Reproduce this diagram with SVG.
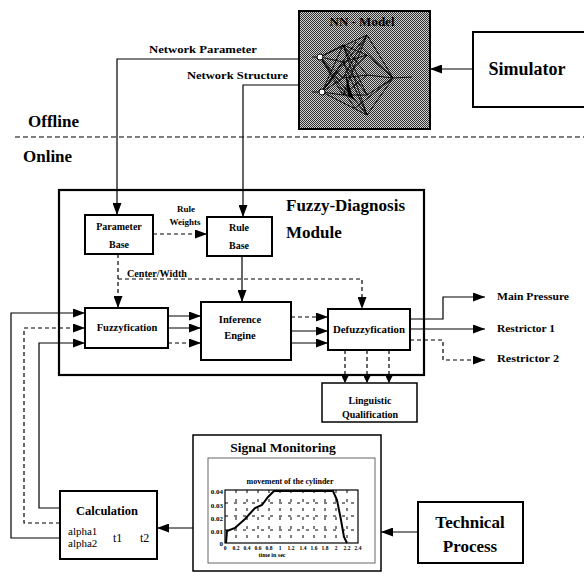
<svg xmlns="http://www.w3.org/2000/svg" width="584" height="573" viewBox="0 0 584 573">
<defs>
<style>
.t{font-family:"Liberation Serif","Times New Roman",serif;font-weight:bold;fill:#000}
.n{font-family:"Liberation Serif","Times New Roman",serif;fill:#000}
.box{fill:#fff;stroke:#000;stroke-width:2}
.ln{fill:none;stroke:#000;stroke-width:1.2}
.dl{fill:none;stroke:#000;stroke-width:1.2;stroke-dasharray:4,3}
.grid{fill:none;stroke:#000;stroke-width:1;stroke-dasharray:3,6}
.nn{fill:none;stroke:#000;stroke-width:0.9}
</style>
<marker id="ah" markerUnits="userSpaceOnUse" markerWidth="12" markerHeight="9" refX="12" refY="4.5" orient="auto">
<path d="M0,0 L12,4.5 L0,9 Z" fill="#000"/>
</marker>
<marker id="as" markerUnits="userSpaceOnUse" markerWidth="7" markerHeight="7" refX="7" refY="3.5" orient="auto">
<path d="M0,0 L7,3.5 L0,7 Z" fill="#000"/>
</marker>
<pattern id="stip" width="2" height="2" patternUnits="userSpaceOnUse">
<rect width="2" height="2" fill="#d0d0d0"/>
<rect width="1" height="1" fill="#303030"/>
<rect x="1" y="1" width="1" height="1" fill="#303030"/>
</pattern>
</defs>
<rect width="584" height="573" fill="#fff"/>

<!-- offline / online separation -->
<g id="separator">
<line x1="15" y1="137" x2="584" y2="137" stroke="#000" stroke-width="1.2" stroke-dasharray="5,3"/>
<text class="t" x="28" y="127" font-size="17">Offline</text>
<text class="t" x="23" y="162" font-size="17">Online</text>
</g>

<!-- connectors -->
<g id="connectors">
<polyline class="ln" points="299,59 117,59 117,215" marker-end="url(#ah)"/>
<polyline class="ln" points="299,85 243,85 243,217" marker-end="url(#ah)"/>
<line class="ln" x1="473" y1="69" x2="430" y2="69" marker-end="url(#ah)"/>
<line class="dl" x1="153" y1="234" x2="207" y2="234" marker-end="url(#ah)"/>
<line class="dl" x1="118" y1="254" x2="118" y2="308" marker-end="url(#ah)"/>
<polyline class="dl" points="118,279 362,279 362,309" marker-end="url(#ah)"/>
<line class="ln" x1="242" y1="256" x2="242" y2="302" marker-end="url(#ah)"/>
<line class="ln" x1="168" y1="316" x2="201" y2="316" marker-end="url(#ah)"/>
<line class="ln" x1="168" y1="328" x2="201" y2="328" marker-end="url(#ah)"/>
<line class="dl" x1="168" y1="343" x2="201" y2="343" marker-end="url(#ah)"/>
<line class="dl" x1="291" y1="317" x2="328" y2="317" marker-end="url(#ah)"/>
<line class="ln" x1="291" y1="331" x2="328" y2="331" marker-end="url(#ah)"/>
<line class="ln" x1="291" y1="343" x2="328" y2="343" marker-end="url(#ah)"/>
<polyline class="ln" points="60,538 11,538 11,313 85,313" marker-end="url(#ah)"/>
<polyline class="dl" points="60,523 24,523 24,328 85,328" marker-end="url(#ah)"/>
<polyline class="ln" points="60,508 39,508 39,343 85,343" marker-end="url(#ah)"/>
<polyline class="ln" points="410,319 443,319 443,297 485,297" marker-end="url(#ah)"/>
<line class="ln" x1="410" y1="329" x2="485" y2="329" marker-end="url(#ah)"/>
<polyline class="dl" points="410,340 443,340 443,360 485,360" marker-end="url(#ah)"/>
<line class="dl" x1="345" y1="350" x2="345" y2="383" marker-end="url(#as)"/>
<line class="dl" x1="367" y1="350" x2="367" y2="383" marker-end="url(#as)"/>
<line class="dl" x1="389" y1="350" x2="389" y2="383" marker-end="url(#as)"/>
<line class="ln" x1="193" y1="528" x2="157" y2="528" marker-end="url(#ah)"/>
<line class="ln" x1="418" y1="532" x2="381" y2="532" marker-end="url(#ah)"/>
<text class="t" x="149" y="53" font-size="11" textLength="108" lengthAdjust="spacingAndGlyphs">Network Parameter</text>
<text class="t" x="187" y="79" font-size="11" textLength="101" lengthAdjust="spacingAndGlyphs">Network Structure</text>
<text class="t" x="186" y="212" font-size="9" text-anchor="middle">Rule</text>
<text class="t" x="185" y="225" font-size="9" text-anchor="middle">Weights</text>
<text class="t" x="127" y="277" font-size="9.5" textLength="60" lengthAdjust="spacingAndGlyphs">Center/Width</text>
</g>

<!-- NN model -->
<g id="nn-model">
<rect x="299" y="11" width="131" height="118" fill="url(#stip)" stroke="#000" stroke-width="2"/>
<text class="t" x="362" y="26" font-size="13" text-anchor="middle">NN - Model</text>
<g class="nn">
<path d="M320,57 L367,35 M320,57 L343,45 M320,57 L343,62 M320,57 L343,78 M320,57 L343,95 M320,57 L367,115 M320,57 L355,108"/>
<path d="M322,92 L367,35 M322,92 L343,45 M322,92 L343,62 M322,92 L343,78 M322,92 L343,95 M322,92 L367,115 M322,92 L356,42"/>
<path d="M343,45 L367,55 M343,45 L367,75 M343,45 L367,95 M343,62 L367,55 M343,62 L367,95 M343,78 L367,55 M343,78 L367,75 M343,95 L367,75 M343,95 L367,95 M343,62 L367,115 M343,95 L367,35 M343,45 L367,115 M343,78 L367,35"/>
<path d="M367,35 L393,78 M367,55 L393,78 M367,75 L393,78 M367,95 L393,78 M367,115 L393,78 M393,78 L412,77 M356,42 L393,78 M355,108 L393,78"/>
<path d="M312,57 L320,57 M312,92 L322,92"/>
</g>
<circle cx="320" cy="57" r="3" fill="#fff" stroke="#000"/>
<circle cx="322" cy="92" r="3" fill="#fff" stroke="#000"/>
<path d="M345,70 L350,88 L354,100 L348,96 Z" fill="#000"/>
</g>

<g id="simulator">
<rect class="box" x="473" y="32" width="130" height="75"/>
<text class="t" x="527" y="75" font-size="18" text-anchor="middle">Simulator</text>
</g>

<g id="fuzzy-module">
<rect x="59" y="190" width="365" height="185" fill="none" stroke="#000" stroke-width="2.2"/>
<text class="t" x="286" y="211" font-size="17">Fuzzy-Diagnosis</text>
<text class="t" x="286" y="238" font-size="17">Module</text>
</g>

<g id="parameter-base">
<rect class="box" x="85" y="215" width="68" height="39"/>
<text class="t" x="119" y="230" font-size="10" text-anchor="middle">Parameter</text>
<text class="t" x="119" y="248" font-size="10" text-anchor="middle">Base</text>
</g>

<g id="rule-base">
<rect class="box" x="207" y="217" width="65" height="39"/>
<text class="t" x="239" y="231" font-size="10" text-anchor="middle">Rule</text>
<text class="t" x="239" y="249" font-size="10" text-anchor="middle">Base</text>
</g>

<g id="fuzzyfication">
<rect class="box" x="85" y="308" width="83" height="40"/>
<text class="t" x="127" y="331" font-size="10.5" text-anchor="middle">Fuzzyfication</text>
</g>

<g id="inference-engine">
<rect class="box" x="201" y="302" width="90" height="58"/>
<text class="t" x="240" y="323" font-size="10.5" text-anchor="middle">Inference</text>
<text class="t" x="240" y="339" font-size="10.5" text-anchor="middle">Engine</text>
</g>

<g id="defuzzyfication">
<rect class="box" x="328" y="309" width="82" height="41"/>
<text class="t" x="369" y="333" font-size="10" text-anchor="middle" textLength="72" lengthAdjust="spacingAndGlyphs">Defuzzyfication</text>
</g>

<g id="outputs">
<text class="t" x="497" y="300" font-size="10" textLength="72" lengthAdjust="spacingAndGlyphs">Main Pressure</text>
<text class="t" x="497" y="332" font-size="10" textLength="58" lengthAdjust="spacingAndGlyphs">Restrictor 1</text>
<text class="t" x="497" y="362" font-size="10" textLength="62" lengthAdjust="spacingAndGlyphs">Restrictor 2</text>
</g>

<g id="linguistic">
<rect x="322" y="383" width="95" height="39" fill="#fff" stroke="#000" stroke-width="1.5"/>
<text class="t" x="370" y="404" font-size="10" text-anchor="middle">Linguistic</text>
<text class="t" x="370" y="418" font-size="10" text-anchor="middle">Qualification</text>
</g>

<g id="signal-monitoring">
<rect x="193" y="435" width="188" height="136" fill="#fff" stroke="#000" stroke-width="1.5"/>
<text class="t" x="283" y="452" font-size="13.5" text-anchor="middle">Signal Monitoring</text>
<rect x="208" y="458" width="167" height="105" fill="none" stroke="#666" stroke-width="1"/>
<text class="t" x="290" y="484" font-size="8" text-anchor="middle">movement of the cylinder</text>
<rect x="225" y="490" width="133" height="53" fill="none" stroke="#000" stroke-width="1.2"/>
<g class="grid">
<path d="M236,490 V543 M247,490 V543 M258,490 V543 M269,490 V543 M280,490 V543 M291,490 V543 M303,490 V543 M314,490 V543 M325,490 V543 M336,490 V543 M347,490 V543"/>
<path d="M225,503 H358 M225,516 H358 M225,530 H358"/>
</g>
<polyline fill="none" stroke="#000" stroke-width="2" points="226,543 227,531 235,528 245,519 255,508 262,505 268,497 274,491 333,491 337,500 341,520 344,537 347,543"/>
<g class="t" font-size="7" text-anchor="end">
<text x="223" y="494">0.04</text>
<text x="223" y="508">0.03</text>
<text x="223" y="521">0.02</text>
<text x="223" y="534">0.01</text>
<text x="223" y="546">0</text>
</g>
<g class="t" font-size="5.5" text-anchor="middle">
<text x="225" y="550">0</text>
<text x="236" y="550">0.2</text>
<text x="247" y="550">0.4</text>
<text x="258" y="550">0.6</text>
<text x="269" y="550">0.8</text>
<text x="280" y="550">1</text>
<text x="291" y="550">1.2</text>
<text x="303" y="550">1.4</text>
<text x="314" y="550">1.6</text>
<text x="325" y="550">1.8</text>
<text x="336" y="550">2</text>
<text x="347" y="550">2.2</text>
<text x="358" y="550">2.4</text>
</g>
<text class="t" x="272" y="557" font-size="6" text-anchor="middle">time in sec</text>
</g>

<g id="technical-process">
<rect class="box" x="418" y="502" width="105" height="61"/>
<text class="t" x="470" y="528" font-size="17" text-anchor="middle">Technical</text>
<text class="t" x="470" y="552" font-size="17" text-anchor="middle">Process</text>
</g>

<g id="calculation">
<rect class="box" x="60" y="491" width="97" height="68"/>
<text class="t" x="107" y="515" font-size="12.5" text-anchor="middle">Calculation</text>
<text class="n" x="68" y="535" font-size="11">alpha1</text>
<text class="n" x="68" y="547" font-size="11">alpha2</text>
<text class="n" x="113" y="542" font-size="12">t1</text>
<text class="n" x="140" y="542" font-size="12">t2</text>
</g>
</svg>
